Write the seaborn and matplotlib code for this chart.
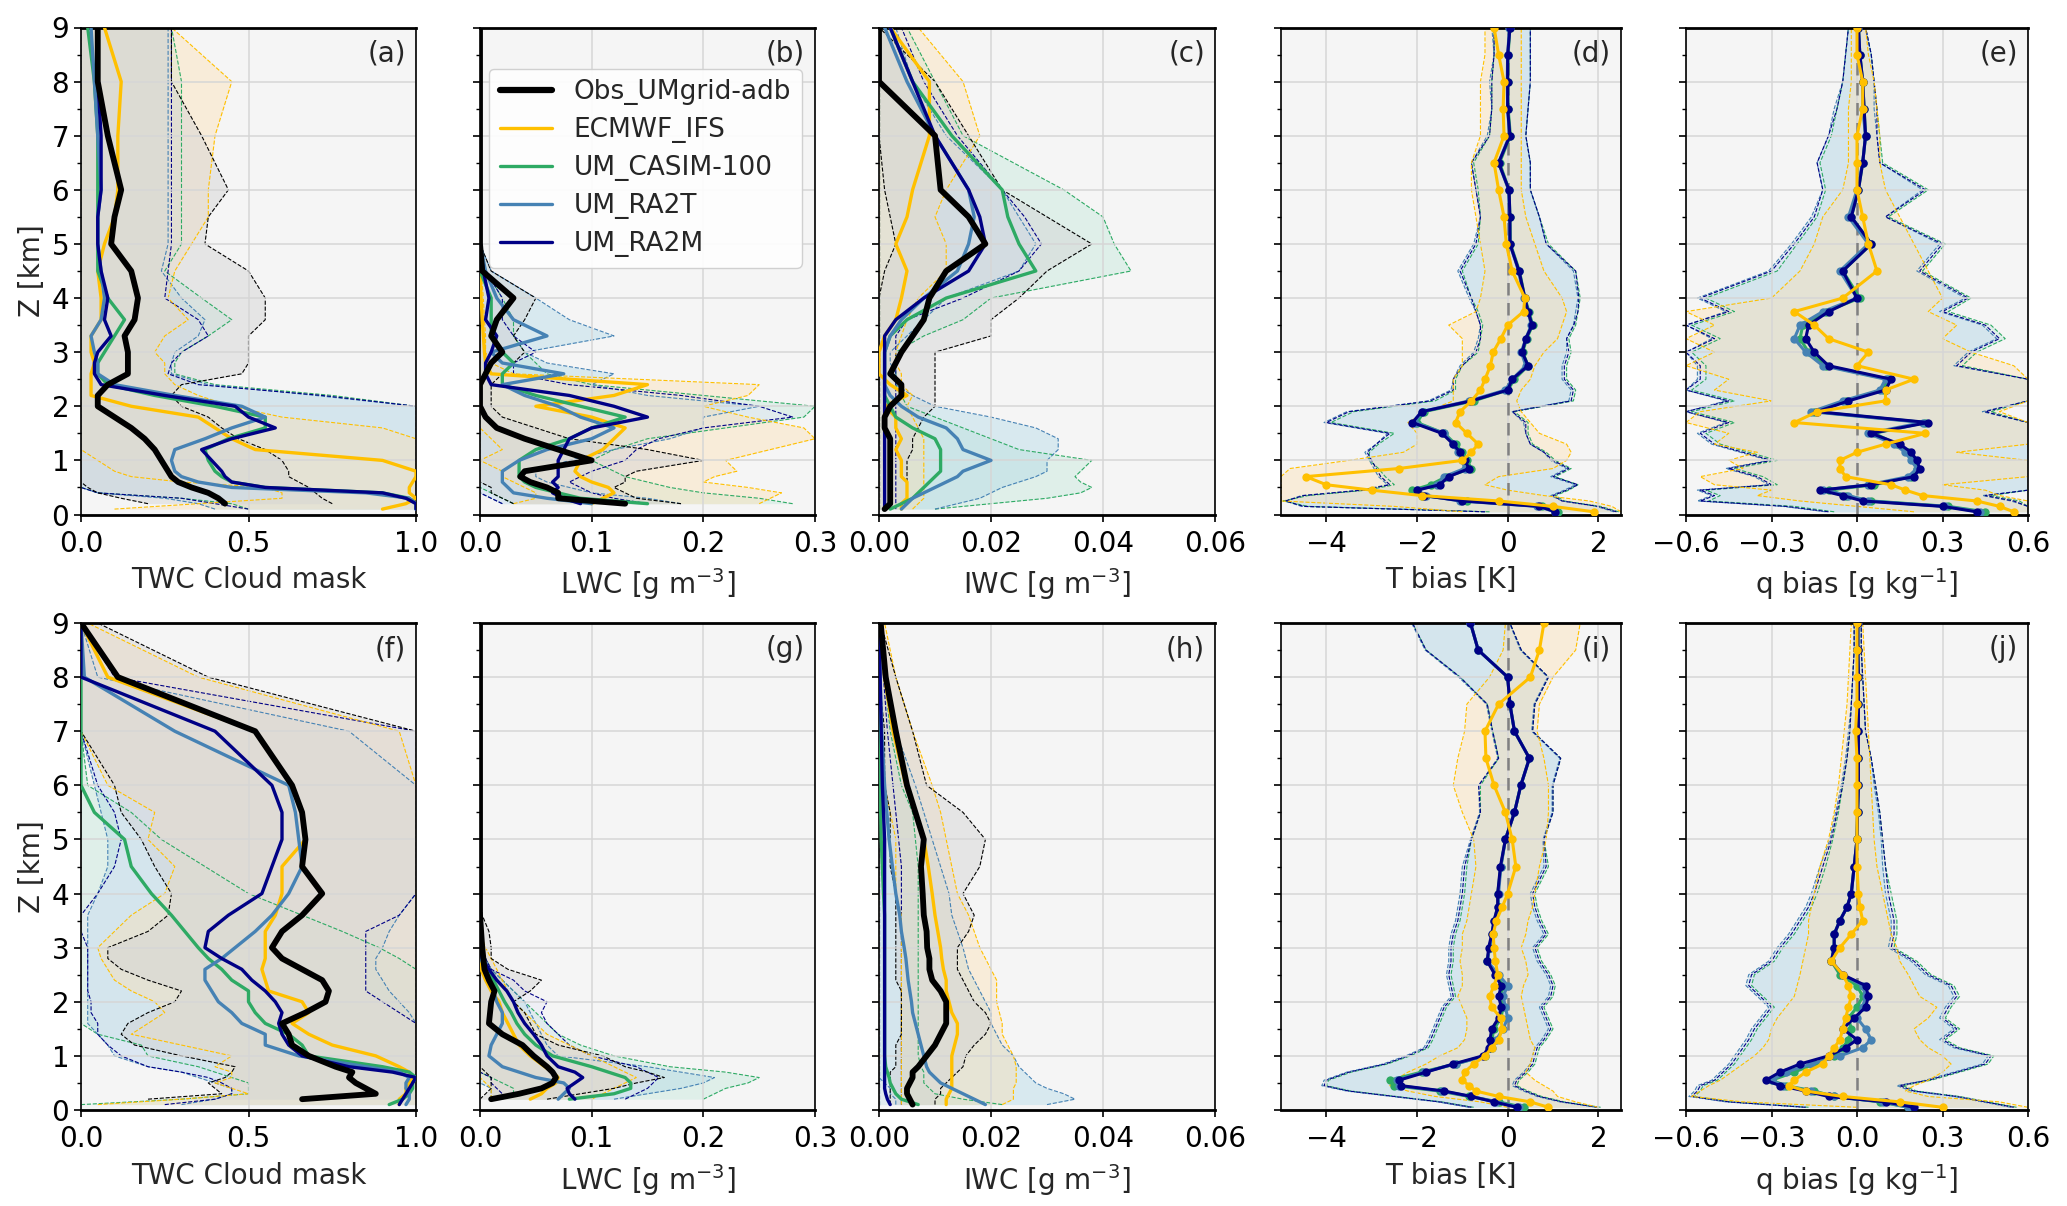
import numpy as np
import matplotlib
matplotlib.use('Agg')
import matplotlib.pyplot as plt
import seaborn as sns
from matplotlib.lines import Line2D
from matplotlib.ticker import MultipleLocator

nan = np.nan

# heights (km)
Z_CLOUD = [0.1, 0.2, 0.3, 0.4, 0.5, 0.6, 0.7, 0.8, 1.0, 1.2, 1.4, 1.6, 1.8, 2.0, 2.2, 2.4, 2.6, 2.8, 3.0,
           3.3, 3.6, 4.0, 4.5, 5.0, 5.5, 6.0, 7.0, 8.0, 9.0]
Z_BIAS = [0.05, 0.15, 0.25, 0.35, 0.45, 0.55, 0.7, 0.85, 1.0, 1.15, 1.3, 1.5, 1.7, 1.9, 2.1, 2.3, 2.5, 2.75,
          3.0, 3.25, 3.5, 3.75, 4.0, 4.5, 5.0, 5.5, 6.0, 6.5, 7.0, 7.5, 8.0, 8.5, 9.0]

LABELS = ['Obs_UMgrid-adb', 'ECMWF_IFS', 'UM_CASIM-100', 'UM_RA2T', 'UM_RA2M']
PANEL_TAGS = ['(a)', '(b)', '(c)', '(d)', '(e)', '(f)', '(g)', '(h)', '(i)', '(j)']
XLABELS = ['TWC Cloud mask', 'LWC [g m$^{-3}$]', 'IWC [g m$^{-3}$]', 'T bias [K]', 'q bias [g kg$^{-1}$]']
XTICKS = [[0.0, 0.5, 1.0], [0.0, 0.1, 0.2, 0.3], [0.0, 0.02, 0.04, 0.06], [-4, -2, 0, 2],
          [-0.6, -0.3, 0.0, 0.3, 0.6]]
XTICKLABELS = [['0.0', '0.5', '1.0'], ['0.0', '0.1', '0.2', '0.3'], ['0.00', '0.02', '0.04', '0.06'],
               ['\u22124', '\u22122', '0', '2'], ['\u22120.6', '\u22120.3', '0.0', '0.3', '0.6']]
XLIMS = [(0, 1.0), (0, 0.3), (0, 0.06), (-5, 2.5), (-0.6, 0.6)]

# ---- (a) TWC cloud mask, case 1
a_obs = [nan, 0.43, 0.41, 0.38, 0.33, 0.29, 0.27, 0.26, 0.24, 0.22, 0.19, 0.15, 0.10, 0.05, 0.05, 0.08, 0.14, 0.14, 0.14, 0.13, 0.16, 0.17, 0.15, 0.09, 0.10, 0.12, 0.08, 0.05, 0.05]
a_obs_lo = [nan, 0.20, 0.12, 0.05, 0.02, 0, 0, 0, 0, 0, 0, 0, 0, 0, 0, 0, 0, 0, 0, 0, 0, 0, 0, 0, 0, 0, 0, 0, 0]
a_obs_hi = [nan, 0.75, 0.72, 0.70, 0.68, 0.65, 0.62, 0.62, 0.60, 0.55, 0.47, 0.42, 0.38, 0.30, 0.27, 0.30, 0.48, 0.50, 0.50, 0.50, 0.55, 0.55, 0.50, 0.37, 0.38, 0.44, 0.36, 0.27, 0.27]
a_ifs = [0.90, 0.97, 1.00, 0.98, 0.98, 0.99, 1.00, 1.00, 0.90, 0.52, 0.45, 0.40, 0.35, 0.15, 0.03, 0.03, 0.03, 0.04, 0.03, 0.03, 0.06, 0.06, 0.05, 0.07, 0.10, 0.11, 0.11, 0.12, 0.07]
a_ifs_lo = [0.10, 0.35, 0.60, 0.60, 0.55, 0.30, 0.15, 0.10, 0.05, 0, 0, 0, 0, 0, 0, 0, 0, 0, 0, 0, 0, 0, 0, 0, 0, 0, 0, 0, 0]
a_ifs_hi = [1.0, 1.0, 1.0, 1.0, 1.0, 1.0, 1.0, 1.0, 1.0, 1.0, 1.0, 0.90, 0.60, 0.45, 0.35, 0.28, 0.25, 0.25, 0.22, 0.25, 0.32, 0.26, 0.28, 0.33, 0.38, 0.38, 0.40, 0.45, 0.27]
a_casim = [1.00, 1.00, 0.98, 0.90, 0.55, 0.45, 0.42, 0.40, 0.38, 0.37, 0.44, 0.55, 0.55, 0.40, 0.22, 0.08, 0.05, 0.05, 0.07, 0.10, 0.13, 0.08, 0.05, 0.05, 0.05, 0.05, 0.05, 0.04, 0.02]
a_casim_lo = [0.50, 0.45, 0.30, 0.05, 0, 0, 0, 0, 0, 0, 0, 0, 0, 0, 0, 0, 0, 0, 0, 0, 0, 0, 0, 0, 0, 0, 0, 0, 0]
a_casim_hi = [1.0, 1.0, 1.0, 1.0, 1.0, 1.0, 1.0, 1.0, 1.0, 1.0, 1.0, 1.0, 1.0, 1.0, 0.75, 0.40, 0.28, 0.28, 0.30, 0.38, 0.45, 0.36, 0.25, 0.30, 0.30, 0.30, 0.30, 0.30, 0.27]
a_ra2t = [1.00, 1.00, 0.98, 0.85, 0.45, 0.35, 0.30, 0.28, 0.27, 0.28, 0.37, 0.45, 0.55, 0.48, 0.28, 0.10, 0.05, 0.05, 0.04, 0.03, 0.06, 0.07, 0.06, 0.05, 0.05, 0.06, 0.05, 0.04, 0.03]
a_ra2t_lo = [0.40, 0.35, 0.25, 0.05, 0, 0, 0, 0, 0, 0, 0, 0, 0, 0, 0, 0, 0, 0, 0, 0, 0, 0, 0, 0, 0, 0, 0, 0, 0]
a_ra2t_hi = [1.0, 1.0, 1.0, 1.0, 1.0, 1.0, 1.0, 1.0, 1.0, 1.0, 1.0, 1.0, 1.0, 1.0, 0.70, 0.38, 0.27, 0.27, 0.28, 0.35, 0.37, 0.30, 0.24, 0.26, 0.26, 0.26, 0.26, 0.26, 0.26]
a_ra2m = [1.00, 1.00, 0.97, 0.90, 0.55, 0.45, 0.43, 0.42, 0.39, 0.36, 0.45, 0.58, 0.50, 0.46, 0.25, 0.06, 0.04, 0.04, 0.05, 0.09, 0.07, 0.08, 0.06, 0.05, 0.05, 0.06, 0.06, 0.05, 0.05]
a_ra2m_lo = [0.50, 0.40, 0.30, 0.05, 0, 0, 0, 0, 0, 0, 0, 0, 0, 0, 0, 0, 0, 0, 0, 0, 0, 0, 0, 0, 0, 0, 0, 0, 0]
a_ra2m_hi = [1.0, 1.0, 1.0, 1.0, 1.0, 1.0, 1.0, 1.0, 1.0, 1.0, 1.0, 1.0, 1.0, 1.0, 0.72, 0.35, 0.26, 0.27, 0.30, 0.38, 0.35, 0.25, 0.26, 0.27, 0.27, 0.27, 0.27, 0.27, 0.27]

# ---- (b) LWC, case 1
b_obs = [nan, 0.13, 0.07, 0.07, 0.06, 0.045, 0.036, 0.04, 0.10, 0.07, 0.04, 0.015, 0.005, 0.0, 0.0, 0.0, 0.005, 0.01, 0.02, 0.01, 0.015, 0.03, 0.002, 0, 0, 0, 0, 0, 0]
b_obs_lo = [nan, 0.03, 0.02, 0.01, 0.01, 0, 0, 0, 0, 0, 0, 0, 0, 0, 0, 0, 0, 0, 0, 0, 0, 0, 0, 0, 0, 0, 0, 0, 0]
b_obs_hi = [nan, 0.18, 0.14, 0.13, 0.12, 0.13, 0.13, 0.14, 0.20, 0.15, 0.08, 0.05, 0.02, 0.01, 0.01, 0.01, 0.02, 0.03, 0.04, 0.03, 0.04, 0.05, 0.01, 0, 0, 0, 0, 0, 0]
b_ifs = [nan, 0.10, 0.11, 0.12, 0.115, 0.10, 0.09, 0.085, 0.09, 0.11, 0.12, 0.13, 0.10, 0.05, 0.12, 0.15, 0.01, 0.005, 0.004, 0.003, 0.002, 0.001, 0, 0, 0, 0, 0, 0, 0]
b_ifs_lo = [nan, 0.03, 0.05, 0.05, 0.04, 0.03, 0.02, 0.02, 0.0, 0.02, 0.01, 0, 0, 0, 0, 0, 0, 0, 0, 0, 0, 0, 0, 0, 0, 0, 0, 0, 0]
b_ifs_hi = [nan, 0.25, 0.26, 0.27, 0.24, 0.20, 0.21, 0.23, 0.22, 0.26, 0.30, 0.29, 0.24, 0.20, 0.24, 0.25, 0.03, 0.01, 0.005, 0.005, 0.004, 0.003, 0.001, 0, 0, 0, 0, 0, 0]
b_casim = [nan, 0.15, 0.09, 0.07, 0.05, 0.04, 0.035, 0.035, 0.035, 0.05, 0.08, 0.10, 0.13, 0.09, 0.05, 0.02, 0.02, 0.03, 0.02, 0.01, 0.01, 0.01, 0.0, 0, 0, 0, 0, 0, 0]
b_casim_lo = [nan, 0.03, 0.02, 0.01, 0, 0, 0, 0, 0, 0, 0, 0, 0, 0, 0, 0, 0, 0, 0, 0, 0, 0, 0, 0, 0, 0, 0, 0, 0]
b_casim_hi = [nan, 0.28, 0.25, 0.20, 0.17, 0.15, 0.13, 0.12, 0.10, 0.12, 0.15, 0.22, 0.29, 0.30, 0.20, 0.10, 0.06, 0.05, 0.04, 0.03, 0.03, 0.02, 0.005, 0, 0, 0, 0, 0, 0]
b_ra2t = [nan, 0.10, 0.06, 0.03, 0.025, 0.02, 0.02, 0.02, 0.035, 0.06, 0.10, 0.12, 0.09, 0.07, 0.04, 0.02, 0.075, 0.02, 0.01, 0.06, 0.03, 0.015, 0.005, 0, 0, 0, 0, 0, 0]
b_ra2t_lo = [nan, 0.02, 0.01, 0, 0, 0, 0, 0, 0, 0, 0, 0, 0, 0, 0, 0, 0, 0, 0, 0, 0, 0, 0, 0, 0, 0, 0, 0, 0]
b_ra2t_hi = [nan, 0.18, 0.15, 0.10, 0.08, 0.06, 0.05, 0.05, 0.08, 0.12, 0.17, 0.20, 0.20, 0.25, 0.15, 0.10, 0.12, 0.06, 0.04, 0.12, 0.08, 0.05, 0.01, 0, 0, 0, 0, 0, 0]
b_ra2m = [nan, 0.09, 0.075, 0.065, 0.07, 0.065, 0.07, 0.07, 0.07, 0.075, 0.08, 0.10, 0.15, 0.12, 0.08, 0.01, 0.005, 0.005, 0.01, 0.015, 0.005, 0.008, 0.003, 0, 0, 0, 0, 0, 0]
b_ra2m_lo = [nan, 0.02, 0.01, 0, 0, 0, 0, 0, 0, 0, 0, 0, 0, 0, 0, 0, 0, 0, 0, 0, 0, 0, 0, 0, 0, 0, 0, 0, 0]
b_ra2m_hi = [nan, 0.15, 0.12, 0.10, 0.09, 0.08, 0.09, 0.10, 0.13, 0.14, 0.16, 0.20, 0.28, 0.25, 0.18, 0.08, 0.03, 0.03, 0.05, 0.03, 0.02, 0.02, 0.005, 0, 0, 0, 0, 0, 0]

# ---- (c) IWC, case 1
c_obs = [0.001, 0.002, 0.002, 0.002, 0.002, 0.002, 0.002, 0.002, 0.002, 0.002, 0.002, 0.001, 0.001, 0.002, 0.004, 0.004, 0.002, 0.003, 0.004, 0.006, 0.008, 0.009, 0.012, 0.019, 0.016, 0.011, 0.010, 0.0, 0.0]
c_obs_lo = [0, 0, 0, 0, 0, 0, 0, 0, 0, 0, 0, 0, 0, 0, 0, 0, 0, 0, 0, 0, 0, 0, 0.001, 0.003, 0.002, 0.001, 0, 0, 0]
c_obs_hi = [0.004, 0.005, 0.005, 0.005, 0.005, 0.005, 0.005, 0.005, 0.005, 0.006, 0.006, 0.007, 0.008, 0.010, 0.010, 0.010, 0.010, 0.010, 0.010, 0.020, 0.020, 0.025, 0.030, 0.038, 0.030, 0.022, 0.016, 0.010, 0.0]
c_ifs = [0.004, 0.004, 0.005, 0.005, 0.005, 0.005, 0.004, 0.004, 0.004, 0.003, 0.004, 0.003, 0.003, 0.001, 0.005, 0.002, 0.0, 0.0, 0.0, 0.001, 0.003, 0.004, 0.005, 0.003, 0.005, 0.006, 0.009, 0.009, 0.002]
c_ifs_lo = [0, 0, 0, 0, 0, 0, 0, 0, 0, 0, 0, 0, 0, 0, 0, 0, 0, 0, 0, 0, 0, 0, 0, 0, 0, 0, 0, 0, 0]
c_ifs_hi = [0.006, 0.007, 0.008, 0.008, 0.008, 0.008, 0.008, 0.008, 0.008, 0.008, 0.008, 0.007, 0.006, 0.005, 0.006, 0.004, 0.004, 0.003, 0.003, 0.004, 0.005, 0.007, 0.012, 0.012, 0.010, 0.012, 0.018, 0.015, 0.007]
c_casim = [0.002, 0.004, 0.006, 0.007, 0.008, 0.009, 0.010, 0.011, 0.011, 0.011, 0.010, 0.006, 0.003, 0.002, 0.001, 0.001, 0.001, 0.001, 0.001, 0.002, 0.005, 0.012, 0.028, 0.025, 0.023, 0.022, 0.013, 0.006, 0.002]
c_casim_lo = [0, 0, 0, 0, 0, 0, 0, 0, 0, 0, 0, 0, 0, 0, 0, 0, 0, 0, 0, 0, 0, 0, 0, 0, 0, 0, 0, 0, 0]
c_casim_hi = [0.010, 0.020, 0.030, 0.036, 0.038, 0.036, 0.035, 0.036, 0.038, 0.025, 0.020, 0.015, 0.010, 0.005, 0.004, 0.003, 0.003, 0.003, 0.003, 0.008, 0.015, 0.020, 0.045, 0.042, 0.040, 0.033, 0.015, 0.010, 0.005]
c_ra2t = [0.004, 0.005, 0.006, 0.008, 0.010, 0.012, 0.014, 0.015, 0.020, 0.015, 0.014, 0.012, 0.007, 0.004, 0.002, 0.001, 0.001, 0.001, 0.001, 0.002, 0.004, 0.008, 0.014, 0.016, 0.017, 0.016, 0.010, 0.005, 0.001]
c_ra2t_lo = [0, 0, 0, 0, 0, 0, 0, 0, 0, 0, 0, 0, 0, 0, 0, 0, 0, 0, 0, 0, 0, 0, 0, 0, 0, 0, 0, 0, 0]
c_ra2t_hi = [0.010, 0.014, 0.018, 0.020, 0.022, 0.025, 0.028, 0.030, 0.030, 0.032, 0.032, 0.028, 0.020, 0.010, 0.006, 0.003, 0.003, 0.002, 0.002, 0.005, 0.008, 0.012, 0.025, 0.028, 0.025, 0.022, 0.012, 0.006, 0.003]
c_ra2m = [0.001, 0.001, 0.001, 0.001, 0.001, 0.001, 0.001, 0.001, 0.001, 0.001, 0.001, 0.001, 0.001, 0.001, 0.001, 0.001, 0.001, 0.001, 0.001, 0.001, 0.003, 0.008, 0.016, 0.019, 0.018, 0.016, 0.010, 0.006, 0.002]
c_ra2m_lo = [0, 0, 0, 0, 0, 0, 0, 0, 0, 0, 0, 0, 0, 0, 0, 0, 0, 0, 0, 0, 0, 0, 0, 0, 0, 0, 0, 0, 0]
c_ra2m_hi = [0.003, 0.003, 0.003, 0.003, 0.003, 0.003, 0.003, 0.003, 0.003, 0.003, 0.003, 0.003, 0.003, 0.003, 0.003, 0.003, 0.003, 0.003, 0.003, 0.003, 0.005, 0.015, 0.025, 0.029, 0.026, 0.022, 0.014, 0.008, 0.004]

# ---- (d) T bias, case 1
d_ifs = [1.90, 1.00, -0.20, -1.90, -3.00, -4.00, -4.45, -2.40, -1.00, -0.80, -0.65, -0.90, -1.15, -1.05, -0.80, -0.60, -0.50, -0.38, -0.32, -0.15, 0.00, 0.35, 0.38, 0.10, -0.03, -0.08, -0.20, -0.30, -0.08, -0.10, -0.08, -0.20, -0.30]
d_ifs_lo = [-1.00, -2.50, -5.00, -5.00, -5.00, -5.00, -5.00, -4.80, -3.50, -2.30, -2.00, -2.00, -2.20, -1.80, -1.20, -1.20, -1.20, -1.00, -1.00, -1.00, -1.30, -0.70, -0.60, -0.50, -0.60, -0.70, -0.80, -0.80, -0.60, -0.60, -0.60, -0.50, -0.50]
d_ifs_hi = [2.50, 2.30, 1.80, 0.80, 0.00, -0.50, -0.20, 1.00, 1.30, 1.40, 1.30, 0.70, 0.50, 0.30, 0.20, 0.30, 0.50, 0.60, 0.80, 1.10, 1.20, 1.30, 1.20, 0.80, 0.60, 0.40, 0.30, 0.30, 0.30, 0.30, 0.30, 0.30, 0.30]
d_casim = [1.10, 0.75, -0.90, -1.90, -2.10, -1.70, -1.35, -0.80, -0.90, -1.00, -1.15, -1.40, -2.00, -1.85, -0.75, 0.00, 0.15, 0.45, 0.33, 0.42, 0.55, 0.47, 0.38, 0.26, 0.06, 0.05, 0.03, -0.18, 0.06, 0.01, 0.00, 0.01, 0.05]
d_casim_lo = [-0.40, -4.40, -4.95, -4.40, -3.10, -2.50, -2.70, -2.85, -3.05, -3.05, -2.85, -2.50, -3.90, -3.40, -1.60, -1.15, -1.15, -1.00, -0.65, -0.60, -0.55, -0.65, -0.80, -1.00, -0.65, -0.60, -0.65, -0.75, -0.40, -0.35, -0.35, -0.30, -0.30]
d_casim_hi = [2.45, 2.05, 1.25, 1.05, 1.35, 1.55, 1.05, 1.40, 1.05, 0.85, 0.55, 0.45, 0.45, 0.15, 1.45, 1.50, 1.30, 1.30, 1.40, 1.35, 1.50, 1.55, 1.60, 1.50, 0.90, 0.70, 0.50, 0.50, 0.40, 0.45, 0.50, 0.50, 0.50]
d_ra2t = [1.05, 0.65, -1.05, -1.80, -2.00, -1.55, -1.40, -0.95, -1.00, -1.10, -1.20, -1.40, -2.05, -1.90, -0.85, -0.05, 0.10, 0.40, 0.30, 0.40, 0.52, 0.45, 0.36, 0.24, 0.05, 0.04, 0.02, -0.20, 0.04, 0.00, -0.01, 0.00, 0.04]
d_ra2t_lo = [-0.50, -4.55, -4.90, -4.55, -3.25, -2.65, -2.85, -2.95, -3.05, -3.15, -2.90, -2.65, -4.05, -3.55, -1.75, -1.25, -1.20, -1.05, -0.75, -0.65, -0.60, -0.70, -0.85, -1.10, -0.75, -0.60, -0.70, -0.80, -0.45, -0.35, -0.40, -0.30, -0.35]
d_ra2t_hi = [2.35, 1.95, 1.20, 0.95, 1.25, 1.50, 0.95, 1.30, 0.95, 0.80, 0.50, 0.40, 0.35, 0.10, 1.35, 1.40, 1.20, 1.20, 1.30, 1.30, 1.45, 1.50, 1.55, 1.45, 0.85, 0.70, 0.50, 0.50, 0.40, 0.45, 0.50, 0.50, 0.50]
d_ra2m = [1.05, 0.70, -1.00, -1.85, -2.00, -1.50, -1.30, -0.85, -0.95, -1.05, -1.20, -1.45, -2.10, -1.90, -0.80, 0.00, 0.10, 0.45, 0.32, 0.40, 0.54, 0.45, 0.38, 0.25, 0.05, 0.05, 0.03, -0.20, 0.05, 0.00, 0.00, 0.00, 0.05]
d_ra2m_lo = [-0.50, -4.50, -4.90, -4.50, -3.20, -2.60, -2.80, -2.90, -3.00, -3.10, -2.90, -2.60, -4.00, -3.50, -1.70, -1.20, -1.20, -1.00, -0.70, -0.60, -0.60, -0.70, -0.80, -1.05, -0.70, -0.60, -0.70, -0.80, -0.40, -0.35, -0.35, -0.30, -0.30]
d_ra2m_hi = [2.40, 2.00, 1.20, 1.00, 1.30, 1.55, 1.00, 1.35, 1.00, 0.80, 0.50, 0.40, 0.40, 0.10, 1.40, 1.45, 1.25, 1.25, 1.35, 1.30, 1.46, 1.55, 1.57, 1.50, 0.85, 0.70, 0.50, 0.50, 0.40, 0.45, 0.50, 0.50, 0.50]

# ---- (e) q bias, case 1
e_ifs = [0.55, 0.50, 0.42, 0.23, 0.17, 0.12, -0.04, -0.06, -0.06, 0.00, 0.10, 0.24, -0.22, -0.14, 0.10, 0.10, 0.20, 0.00, 0.04, -0.10, -0.15, -0.22, -0.05, 0.07, 0.04, 0.02, 0.00, 0.00, 0.00, 0.02, 0.02, 0.00, 0.00]
e_ifs_lo = [0.20, 0.00, -0.20, -0.35, -0.30, -0.50, -0.55, -0.40, -0.45, -0.35, -0.50, -0.45, -0.60, -0.55, -0.30, -0.50, -0.45, -0.60, -0.50, -0.60, -0.50, -0.60, -0.30, -0.20, -0.15, -0.12, -0.05, -0.03, -0.03, -0.03, -0.02, -0.02, -0.02]
e_ifs_hi = [0.60, 0.60, 0.60, 0.50, 0.45, 0.30, 0.60, 0.60, 0.60, 0.35, 0.60, 0.60, 0.60, 0.50, 0.60, 0.60, 0.60, 0.55, 0.40, 0.30, 0.35, 0.25, 0.30, 0.25, 0.20, 0.15, 0.10, 0.08, 0.08, 0.07, 0.06, 0.04, 0.03]
e_casim = [0.45, 0.32, 0.05, -0.04, -0.10, 0.06, 0.19, 0.21, 0.20, 0.18, 0.14, 0.06, 0.24, -0.15, -0.04, 0.09, 0.11, -0.11, -0.17, -0.20, -0.19, -0.11, 0.01, -0.05, 0.05, -0.02, 0.005, 0.02, 0.03, 0.025, 0.02, 0.01, 0.005]
e_casim_lo = [-0.08, -0.22, -0.52, -0.48, -0.53, -0.28, -0.33, -0.43, -0.28, -0.38, -0.48, -0.53, -0.43, -0.58, -0.43, -0.58, -0.53, -0.53, -0.58, -0.48, -0.58, -0.43, -0.53, -0.28, -0.21, -0.14, -0.11, -0.13, -0.09, -0.07, -0.05, -0.04, -0.03]
e_casim_hi = [0.60, 0.60, 0.57, 0.47, 0.60, 0.60, 0.60, 0.60, 0.60, 0.60, 0.60, 0.60, 0.60, 0.47, 0.60, 0.60, 0.60, 0.37, 0.42, 0.52, 0.47, 0.32, 0.40, 0.23, 0.31, 0.11, 0.25, 0.09, 0.08, 0.07, 0.06, 0.05, 0.03]
e_ra2t = [0.43, 0.31, 0.04, -0.03, -0.12, 0.04, 0.18, 0.21, 0.19, 0.17, 0.13, 0.04, 0.23, -0.16, -0.05, 0.08, 0.10, -0.12, -0.18, -0.22, -0.20, -0.12, 0.00, -0.06, 0.04, -0.03, 0.00, 0.02, 0.03, 0.02, 0.02, 0.01, 0.005]
e_ra2t_lo = [-0.11, -0.26, -0.56, -0.51, -0.56, -0.31, -0.36, -0.46, -0.31, -0.41, -0.51, -0.56, -0.46, -0.60, -0.46, -0.60, -0.56, -0.56, -0.60, -0.51, -0.60, -0.46, -0.56, -0.31, -0.23, -0.16, -0.12, -0.14, -0.10, -0.08, -0.05, -0.04, -0.03]
e_ra2t_hi = [0.60, 0.60, 0.54, 0.44, 0.60, 0.60, 0.60, 0.60, 0.60, 0.60, 0.60, 0.60, 0.60, 0.44, 0.60, 0.60, 0.60, 0.34, 0.39, 0.49, 0.44, 0.29, 0.38, 0.21, 0.29, 0.10, 0.23, 0.08, 0.07, 0.06, 0.06, 0.05, 0.03]
e_ra2m = [0.42, 0.30, 0.02, -0.05, -0.13, 0.05, 0.20, 0.22, 0.21, 0.19, 0.15, 0.05, 0.25, -0.14, -0.03, 0.10, 0.12, -0.10, -0.15, -0.18, -0.17, -0.10, 0.00, -0.05, 0.05, -0.02, 0.005, 0.02, 0.03, 0.025, 0.02, 0.01, 0.005]
e_ra2m_lo = [-0.10, -0.25, -0.55, -0.50, -0.55, -0.30, -0.35, -0.45, -0.30, -0.40, -0.50, -0.55, -0.45, -0.60, -0.45, -0.60, -0.55, -0.55, -0.60, -0.50, -0.60, -0.45, -0.55, -0.30, -0.22, -0.15, -0.12, -0.14, -0.10, -0.07, -0.05, -0.04, -0.03]
e_ra2m_hi = [0.60, 0.60, 0.55, 0.45, 0.60, 0.60, 0.60, 0.60, 0.60, 0.60, 0.60, 0.60, 0.60, 0.45, 0.60, 0.60, 0.60, 0.35, 0.40, 0.50, 0.45, 0.30, 0.39, 0.22, 0.30, 0.10, 0.24, 0.08, 0.07, 0.07, 0.06, 0.05, 0.03]

# ---- (f) TWC cloud mask, case 2
f_obs = [nan, 0.66, 0.88, 0.85, 0.82, 0.80, 0.81, 0.76, 0.68, 0.63, 0.62, 0.60, 0.67, 0.73, 0.74, 0.72, 0.66, 0.60, 0.57, 0.60, 0.66, 0.72, 0.66, 0.67, 0.66, 0.63, 0.52, 0.11, 0.00]
f_obs_lo = [nan, 0.20, 0.42, 0.40, 0.38, 0.43, 0.45, 0.46, 0.30, 0.16, 0.12, 0.14, 0.20, 0.28, 0.30, 0.20, 0.12, 0.08, 0.08, 0.20, 0.26, 0.27, 0.22, 0.18, 0.12, 0.10, 0.00, 0.00, 0.00]
f_obs_hi = [nan, 1.0, 1.0, 1.0, 1.0, 1.0, 1.0, 1.0, 1.0, 1.0, 1.0, 1.0, 1.0, 1.0, 1.0, 1.0, 1.0, 1.0, 1.0, 1.0, 1.0, 1.0, 1.0, 1.0, 1.0, 1.0, 1.0, 0.38, 0.05]
f_ifs = [0.95, 0.95, 0.97, 0.97, 0.98, 0.99, 0.98, 0.95, 0.88, 0.75, 0.68, 0.63, 0.68, 0.66, 0.56, 0.55, 0.54, 0.55, 0.55, 0.55, 0.58, 0.60, 0.60, 0.67, 0.66, 0.63, 0.52, 0.08, 0.00]
f_ifs_lo = [0.05, 0.30, 0.50, 0.45, 0.40, 0.45, 0.45, 0.40, 0.45, 0.30, 0.15, 0.20, 0.25, 0.22, 0.15, 0.10, 0.08, 0.06, 0.05, 0.10, 0.15, 0.25, 0.28, 0.20, 0.22, 0.08, 0.00, 0.00, 0.00]
f_ifs_hi = [1.0, 1.0, 1.0, 1.0, 1.0, 1.0, 1.0, 1.0, 1.0, 1.0, 1.0, 1.0, 1.0, 1.0, 1.0, 1.0, 1.0, 1.0, 1.0, 1.0, 1.0, 1.0, 1.0, 1.0, 1.0, 1.0, 0.95, 0.35, 0.02]
f_casim = [0.92, 0.96, 0.98, 0.99, 0.99, 1.00, 0.98, 0.90, 0.68, 0.66, 0.62, 0.55, 0.52, 0.50, 0.50, 0.45, 0.42, 0.38, 0.35, 0.31, 0.27, 0.21, 0.15, 0.13, 0.04, 0.00, 0.00, 0.00, 0.00]
f_casim_lo = [0.00, 0.30, 0.50, 0.50, 0.50, 0.45, 0.40, 0.35, 0.20, 0.18, 0.05, 0, 0, 0, 0, 0, 0, 0, 0, 0, 0, 0, 0, 0, 0, 0, 0, 0, 0]
f_casim_hi = [1.0, 1.0, 1.0, 1.0, 1.0, 1.0, 1.0, 1.0, 1.0, 1.0, 1.0, 1.0, 1.0, 1.0, 1.0, 1.0, 1.0, 0.95, 0.89, 0.78, 0.66, 0.50, 0.37, 0.24, 0.15, 0.02, 0.0, 0.0, 0.0]
f_ra2t = [0.97, 0.98, 0.98, 0.97, 0.97, 0.98, 0.95, 0.85, 0.65, 0.55, 0.55, 0.48, 0.45, 0.41, 0.39, 0.37, 0.37, 0.42, 0.46, 0.52, 0.57, 0.62, 0.66, 0.65, 0.64, 0.62, 0.28, 0.01, 0.00]
f_ra2t_lo = [0.30, 0.40, 0.45, 0.45, 0.40, 0.35, 0.30, 0.20, 0.10, 0.08, 0.05, 0.02, 0.02, 0.02, 0.02, 0.02, 0.02, 0.02, 0.02, 0.02, 0.02, 0.05, 0.08, 0.08, 0.06, 0.04, 0.0, 0.0, 0.0]
f_ra2t_hi = [1.0, 1.0, 1.0, 1.0, 1.0, 1.0, 1.0, 1.0, 1.0, 1.0, 1.0, 1.0, 0.98, 0.95, 0.92, 0.90, 0.88, 0.88, 0.90, 0.92, 0.95, 1.0, 1.0, 1.0, 1.0, 1.0, 0.80, 0.05, 0.0]
f_ra2m = [0.95, 0.96, 0.97, 0.98, 0.99, 1.00, 0.93, 0.80, 0.66, 0.62, 0.60, 0.59, 0.60, 0.58, 0.55, 0.51, 0.48, 0.42, 0.37, 0.38, 0.44, 0.54, 0.57, 0.60, 0.60, 0.57, 0.40, 0.00, 0.00]
f_ra2m_lo = [0.25, 0.40, 0.45, 0.45, 0.42, 0.38, 0.30, 0.20, 0.12, 0.08, 0.05, 0.05, 0.03, 0.03, 0.02, 0.02, 0.02, 0.02, 0.02, 0.00, 0.00, 0.05, 0.10, 0.12, 0.10, 0.05, 0.0, 0.0, 0.0]
f_ra2m_hi = [1.0, 1.0, 1.0, 1.0, 1.0, 1.0, 1.0, 1.0, 1.0, 1.0, 1.0, 1.0, 0.95, 0.90, 0.85, 0.85, 0.85, 0.85, 0.85, 0.85, 0.95, 1.0, 1.0, 1.0, 1.0, 1.0, 1.0, 0.10, 0.0]

# ---- (g) LWC, case 2
g_obs = [nan, 0.010, 0.035, 0.055, 0.065, 0.068, 0.065, 0.060, 0.048, 0.038, 0.020, 0.008, 0.009, 0.010, 0.013, 0.008, 0.004, 0.003, 0.002, 0.001, 0, 0, 0, 0, 0, 0, 0, 0, 0]
g_obs_lo = [nan, 0.0, 0.005, 0.01, 0.01, 0.01, 0.005, 0, 0, 0, 0, 0, 0, 0, 0, 0, 0, 0, 0, 0, 0, 0, 0, 0, 0, 0, 0, 0, 0]
g_obs_hi = [nan, 0.06, 0.09, 0.12, 0.14, 0.165, 0.15, 0.13, 0.11, 0.07, 0.05, 0.045, 0.04, 0.03, 0.045, 0.055, 0.025, 0.01, 0.01, 0.008, 0.002, 0, 0, 0, 0, 0, 0, 0, 0]
g_ifs = [nan, 0.045, 0.055, 0.060, 0.068, 0.070, 0.065, 0.058, 0.045, 0.035, 0.030, 0.025, 0.020, 0.017, 0.010, 0.005, 0.001, 0, 0, 0, 0, 0, 0, 0, 0, 0, 0, 0, 0]
g_ifs_lo = [nan, 0.01, 0.01, 0.01, 0.005, 0, 0, 0, 0, 0, 0, 0, 0, 0, 0, 0, 0, 0, 0, 0, 0, 0, 0, 0, 0, 0, 0, 0, 0]
g_ifs_hi = [nan, 0.10, 0.11, 0.12, 0.13, 0.14, 0.13, 0.12, 0.10, 0.08, 0.06, 0.05, 0.04, 0.03, 0.025, 0.02, 0.015, 0.01, 0.005, 0, 0, 0, 0, 0, 0, 0, 0, 0, 0]
g_casim = [nan, 0.080, 0.120, 0.135, 0.135, 0.130, 0.115, 0.100, 0.065, 0.050, 0.040, 0.033, 0.028, 0.022, 0.017, 0.012, 0.006, 0.002, 0, 0, 0, 0, 0, 0, 0, 0, 0, 0, 0]
g_casim_lo = [nan, 0.02, 0.03, 0.03, 0.02, 0.01, 0, 0, 0, 0, 0, 0, 0, 0, 0, 0, 0, 0, 0, 0, 0, 0, 0, 0, 0, 0, 0, 0, 0]
g_casim_hi = [nan, 0.20, 0.21, 0.22, 0.24, 0.25, 0.22, 0.17, 0.12, 0.09, 0.07, 0.06, 0.05, 0.04, 0.03, 0.02, 0.01, 0.005, 0, 0, 0, 0, 0, 0, 0, 0, 0, 0, 0]
g_ra2t = [nan, 0.070, 0.075, 0.080, 0.075, 0.050, 0.035, 0.020, 0.008, 0.010, 0.015, 0.020, 0.020, 0.015, 0.012, 0.008, 0.004, 0.001, 0, 0, 0, 0, 0, 0, 0, 0, 0, 0, 0]
g_ra2t_lo = [nan, 0.01, 0.01, 0.01, 0, 0, 0, 0, 0, 0, 0, 0, 0, 0, 0, 0, 0, 0, 0, 0, 0, 0, 0, 0, 0, 0, 0, 0, 0]
g_ra2t_hi = [nan, 0.12, 0.15, 0.18, 0.20, 0.21, 0.18, 0.15, 0.07, 0.06, 0.055, 0.05, 0.045, 0.04, 0.03, 0.02, 0.01, 0.005, 0, 0, 0, 0, 0, 0, 0, 0, 0, 0, 0]
g_ra2m = [nan, 0.085, 0.080, 0.078, 0.085, 0.092, 0.085, 0.070, 0.060, 0.055, 0.048, 0.040, 0.034, 0.030, 0.024, 0.015, 0.008, 0.002, 0, 0, 0, 0, 0, 0, 0, 0, 0, 0, 0]
g_ra2m_lo = [nan, 0.02, 0.02, 0.015, 0.01, 0.01, 0, 0, 0, 0, 0, 0, 0, 0, 0, 0, 0, 0, 0, 0, 0, 0, 0, 0, 0, 0, 0, 0, 0]
g_ra2m_hi = [nan, 0.13, 0.14, 0.15, 0.155, 0.16, 0.15, 0.14, 0.10, 0.08, 0.07, 0.06, 0.055, 0.06, 0.04, 0.03, 0.01, 0.005, 0, 0, 0, 0, 0, 0, 0, 0, 0, 0, 0]

# ---- (h) IWC, case 2
h_obs = [0.0060, 0.0055, 0.0050, 0.0050, 0.0055, 0.0060, 0.0060, 0.0070, 0.0085, 0.0100, 0.0110, 0.0120, 0.0120, 0.0120, 0.0110, 0.0095, 0.0090, 0.0090, 0.0086, 0.0085, 0.0080, 0.0078, 0.0075, 0.0080, 0.0065, 0.0050, 0.0030, 0.0012, 0.0003]
h_obs_lo = [0.002, 0.002, 0.002, 0.002, 0.002, 0.002, 0.002, 0.003, 0.003, 0.003, 0.004, 0.004, 0.004, 0.004, 0.004, 0.003, 0.003, 0.003, 0.003, 0.003, 0.003, 0.003, 0.002, 0.002, 0.002, 0.001, 0.001, 0.0, 0.0]
h_obs_hi = [0.010, 0.010, 0.011, 0.011, 0.012, 0.013, 0.014, 0.015, 0.0155, 0.017, 0.019, 0.020, 0.019, 0.017, 0.016, 0.015, 0.014, 0.014, 0.014, 0.016, 0.017, 0.015, 0.018, 0.019, 0.015, 0.0085, 0.006, 0.003, 0.0003]
h_ifs = [0.0120, 0.0120, 0.0125, 0.0130, 0.0130, 0.0130, 0.0130, 0.0130, 0.0130, 0.0135, 0.0140, 0.0140, 0.0130, 0.0125, 0.0120, 0.0120, 0.0115, 0.0112, 0.0110, 0.0105, 0.0100, 0.0095, 0.0088, 0.0080, 0.0065, 0.0048, 0.0025, 0.0010, 0.0003]
h_ifs_lo = [0.004, 0.004, 0.004, 0.004, 0.004, 0.004, 0.004, 0.004, 0.004, 0.004, 0.004, 0.004, 0.004, 0.004, 0.004, 0.004, 0.004, 0.004, 0.004, 0.004, 0.004, 0.003, 0.003, 0.003, 0.002, 0.001, 0.0005, 0.0, 0.0]
h_ifs_hi = [0.022, 0.024, 0.024, 0.024, 0.0245, 0.0245, 0.0245, 0.0245, 0.024, 0.023, 0.022, 0.022, 0.0215, 0.021, 0.021, 0.021, 0.020, 0.019, 0.018, 0.017, 0.016, 0.014, 0.013, 0.012, 0.011, 0.0095, 0.006, 0.003, 0.001]
h_casim = [0.0070, 0.0040, 0.0030, 0.0025, 0.0020, 0.0018, 0.0015, 0.0012, 0.0010, 0.0010, 0.0010, 0.0010, 0.0010, 0.0010, 0.0010, 0.0010, 0.0010, 0.0010, 0.0010, 0.0010, 0.0010, 0.0008, 0.0006, 0.0004, 0.0003, 0.0002, 0.0001, 0.0, 0.0]
h_casim_lo = [0, 0, 0, 0, 0, 0, 0, 0, 0, 0, 0, 0, 0, 0, 0, 0, 0, 0, 0, 0, 0, 0, 0, 0, 0, 0, 0, 0, 0]
h_casim_hi = [0.022, 0.015, 0.010, 0.009, 0.008, 0.008, 0.008, 0.0075, 0.007, 0.007, 0.007, 0.007, 0.007, 0.007, 0.007, 0.007, 0.007, 0.007, 0.007, 0.007, 0.007, 0.007, 0.007, 0.0065, 0.006, 0.004, 0.002, 0.001, 0.0]
h_ra2t = [0.019, 0.017, 0.015, 0.013, 0.011, 0.010, 0.009, 0.0085, 0.008, 0.0075, 0.007, 0.0065, 0.006, 0.0058, 0.0055, 0.0052, 0.005, 0.0048, 0.0045, 0.004, 0.0037, 0.003, 0.0024, 0.0018, 0.0014, 0.001, 0.0005, 0.0002, 0.0]
h_ra2t_lo = [0.003, 0.003, 0.002, 0.002, 0.001, 0, 0, 0, 0, 0, 0, 0, 0, 0, 0, 0, 0, 0, 0, 0, 0, 0, 0, 0, 0, 0, 0, 0, 0]
h_ra2t_hi = [0.030, 0.035, 0.033, 0.030, 0.028, 0.027, 0.026, 0.025, 0.024, 0.022, 0.021, 0.020, 0.020, 0.019, 0.018, 0.017, 0.016, 0.0155, 0.015, 0.014, 0.013, 0.0125, 0.011, 0.0095, 0.008, 0.0065, 0.003, 0.001, 0.0]
h_ra2m = [0.0020, 0.0015, 0.0012, 0.0010, 0.0010, 0.0010, 0.0010, 0.0010, 0.0010, 0.0010, 0.0010, 0.0010, 0.0010, 0.0010, 0.0010, 0.0010, 0.0010, 0.0010, 0.0010, 0.0010, 0.0010, 0.0010, 0.0010, 0.0010, 0.0008, 0.0006, 0.0004, 0.0002, 0.0]
h_ra2m_lo = [0, 0, 0, 0, 0, 0, 0, 0, 0, 0, 0, 0, 0, 0, 0, 0, 0, 0, 0, 0, 0, 0, 0, 0, 0, 0, 0, 0, 0]
h_ra2m_hi = [0.004, 0.004, 0.004, 0.004, 0.004, 0.004, 0.004, 0.004, 0.004, 0.004, 0.004, 0.004, 0.004, 0.004, 0.004, 0.004, 0.004, 0.004, 0.004, 0.004, 0.004, 0.004, 0.004, 0.0035, 0.003, 0.0025, 0.0015, 0.0008, 0.0002]

# ---- (i) T bias, case 2
i_ifs = [0.90, 0.50, -0.20, -0.70, -0.85, -1.00, -0.95, -0.75, -0.50, -0.35, -0.20, -0.12, -0.15, -0.35, -0.40, -0.30, -0.22, -0.27, -0.30, -0.32, -0.25, -0.12, 0.00, 0.18, 0.10, -0.05, -0.30, -0.48, -0.50, -0.20, 0.50, 0.70, 0.80]
i_ifs_lo = [0.00, -0.60, -1.60, -2.20, -2.60, -2.50, -2.20, -1.80, -1.50, -1.10, -0.95, -0.90, -0.90, -1.00, -1.10, -1.00, -1.00, -1.05, -1.00, -1.00, -0.90, -0.85, -0.80, -0.70, -0.75, -1.00, -1.20, -1.10, -0.95, -0.90, -0.40, -0.10, -0.05]
i_ifs_hi = [2.00, 1.50, 1.10, 1.00, 0.80, 0.60, 0.40, 0.50, 0.55, 0.60, 0.50, 0.45, 0.40, 0.35, 0.30, 0.35, 0.45, 0.40, 0.30, 0.40, 0.45, 0.55, 0.60, 0.70, 0.85, 0.90, 0.90, 0.80, 0.65, 0.70, 1.00, 1.50, 1.60]
i_casim = [0.35, -0.20, -0.85, -1.50, -2.50, -2.60, -1.90, -1.15, -0.50, -0.40, -0.35, -0.30, -0.15, -0.10, -0.15, -0.10, -0.25, -0.45, -0.40, -0.33, -0.28, -0.20, -0.22, -0.15, -0.05, 0.15, 0.29, 0.48, 0.15, 0.05, 0.00, -0.65, -0.82]
i_casim_lo = [-0.75, -1.45, -2.45, -3.45, -4.00, -3.95, -3.45, -2.65, -2.15, -1.75, -1.65, -1.55, -1.45, -1.35, -1.15, -1.20, -1.25, -1.20, -1.20, -1.15, -1.05, -1.00, -0.95, -0.90, -0.80, -0.60, -0.60, -0.20, -0.33, -0.45, -1.05, -1.80, -2.10]
i_casim_hi = [2.05, 1.25, 0.75, 0.45, 0.20, 0.25, 0.45, 0.60, 0.65, 0.70, 0.85, 1.00, 0.90, 0.80, 1.00, 1.05, 0.95, 0.75, 0.65, 0.90, 0.75, 0.65, 0.60, 0.90, 0.80, 1.00, 1.00, 1.17, 0.55, 0.60, 0.90, 0.30, 0.05]
i_ra2t = [0.25, -0.25, -0.80, -1.45, -2.40, -2.45, -1.85, -1.15, -0.50, -0.35, -0.25, -0.10, 0.00, -0.05, -0.10, 0.00, -0.20, -0.45, -0.40, -0.35, -0.30, -0.22, -0.20, -0.15, -0.05, 0.15, 0.29, 0.48, 0.15, 0.05, 0.00, -0.65, -0.82]
i_ra2t_lo = [-0.85, -1.55, -2.55, -3.55, -4.10, -4.05, -3.55, -2.75, -2.25, -1.85, -1.75, -1.65, -1.55, -1.45, -1.25, -1.30, -1.35, -1.30, -1.30, -1.25, -1.15, -1.10, -1.05, -1.00, -0.82, -0.62, -0.64, -0.22, -0.35, -0.47, -1.08, -1.82, -2.12]
i_ra2t_hi = [1.95, 1.15, 0.65, 0.35, 0.10, 0.15, 0.35, 0.50, 0.55, 0.60, 0.75, 0.90, 0.80, 0.70, 0.90, 0.95, 0.85, 0.65, 0.55, 0.80, 0.65, 0.55, 0.50, 0.80, 0.78, 0.98, 0.98, 1.15, 0.53, 0.58, 0.88, 0.28, 0.04]
i_ra2m = [0.20, -0.30, -0.80, -1.40, -2.35, -2.40, -1.80, -1.20, -0.55, -0.42, -0.39, -0.35, -0.20, -0.14, -0.20, -0.14, -0.28, -0.45, -0.42, -0.35, -0.30, -0.22, -0.22, -0.16, -0.05, 0.15, 0.29, 0.48, 0.15, 0.05, 0.00, -0.65, -0.82]
i_ra2m_lo = [-0.80, -1.50, -2.50, -3.50, -4.05, -4.00, -3.50, -2.70, -2.20, -1.80, -1.70, -1.60, -1.50, -1.40, -1.20, -1.25, -1.30, -1.25, -1.25, -1.20, -1.10, -1.05, -1.00, -0.95, -0.80, -0.60, -0.64, -0.20, -0.33, -0.45, -1.05, -1.80, -2.10]
i_ra2m_hi = [2.00, 1.20, 0.70, 0.40, 0.15, 0.20, 0.40, 0.55, 0.60, 0.65, 0.80, 0.95, 0.85, 0.75, 0.95, 1.00, 0.90, 0.70, 0.60, 0.85, 0.70, 0.60, 0.55, 0.85, 0.80, 1.00, 1.00, 1.17, 0.55, 0.60, 0.90, 0.30, 0.05]

# ---- (j) q bias, case 2
j_ifs = [0.30, 0.15, -0.05, -0.18, -0.24, -0.22, -0.18, -0.12, -0.10, -0.08, -0.06, -0.05, -0.04, -0.03, -0.02, -0.03, -0.05, -0.09, -0.06, -0.02, 0.02, 0.01, 0.005, 0.00, 0.00, 0.00, 0.00, 0.00, -0.005, 0.00, 0.00, 0.00, 0.00]
j_ifs_lo = [0.00, -0.40, -0.58, -0.55, -0.52, -0.48, -0.44, -0.40, -0.36, -0.33, -0.31, -0.30, -0.28, -0.25, -0.22, -0.21, -0.20, -0.19, -0.18, -0.17, -0.17, -0.16, -0.15, -0.13, -0.10, -0.08, -0.065, -0.055, -0.045, -0.035, -0.03, -0.025, -0.02]
j_ifs_hi = [0.60, 0.50, 0.25, 0.17, 0.20, 0.25, 0.30, 0.33, 0.30, 0.25, 0.22, 0.20, 0.25, 0.28, 0.22, 0.20, 0.18, 0.15, 0.14, 0.12, 0.11, 0.10, 0.09, 0.07, 0.06, 0.055, 0.05, 0.045, 0.04, 0.035, 0.03, 0.025, 0.02]
j_casim = [0.18, 0.08, -0.08, -0.15, -0.25, -0.30, -0.22, -0.15, -0.08, -0.05, -0.03, -0.02, -0.03, 0.00, 0.02, 0.00, -0.06, -0.09, -0.08, -0.08, -0.06, -0.035, -0.02, -0.01, 0.00, 0.002, 0.005, 0.005, 0.005, 0.005, 0.005, 0.003, 0.003]
j_casim_lo = [-0.17, -0.44, -0.57, -0.55, -0.54, -0.49, -0.46, -0.43, -0.41, -0.39, -0.37, -0.35, -0.32, -0.29, -0.33, -0.37, -0.36, -0.29, -0.26, -0.22, -0.19, -0.16, -0.14, -0.11, -0.085, -0.065, -0.05, -0.035, -0.025, -0.02, -0.015, -0.01, -0.01]
j_casim_hi = [0.56, 0.46, 0.36, 0.21, 0.16, 0.26, 0.36, 0.46, 0.48, 0.36, 0.31, 0.36, 0.31, 0.33, 0.36, 0.34, 0.26, 0.21, 0.13, 0.14, 0.14, 0.13, 0.12, 0.10, 0.09, 0.08, 0.065, 0.05, 0.03, 0.025, 0.02, 0.015, 0.015]
j_ra2t = [0.18, 0.09, -0.08, -0.16, -0.26, -0.30, -0.25, -0.16, -0.06, 0.02, 0.05, 0.03, 0.00, 0.02, 0.03, 0.02, -0.05, -0.09, -0.08, -0.08, -0.06, -0.035, -0.02, -0.01, 0.00, 0.002, 0.005, 0.005, 0.005, 0.005, 0.005, 0.003, 0.003]
j_ra2t_lo = [-0.19, -0.46, -0.59, -0.57, -0.56, -0.51, -0.48, -0.45, -0.43, -0.41, -0.39, -0.37, -0.34, -0.31, -0.35, -0.39, -0.38, -0.31, -0.28, -0.24, -0.21, -0.18, -0.16, -0.13, -0.095, -0.075, -0.055, -0.04, -0.03, -0.02, -0.015, -0.01, -0.01]
j_ra2t_hi = [0.54, 0.44, 0.34, 0.19, 0.14, 0.24, 0.34, 0.44, 0.46, 0.34, 0.29, 0.34, 0.29, 0.31, 0.34, 0.32, 0.24, 0.19, 0.11, 0.12, 0.12, 0.11, 0.10, 0.09, 0.085, 0.075, 0.06, 0.05, 0.03, 0.025, 0.02, 0.015, 0.015]
j_ra2m = [0.20, 0.10, -0.10, -0.18, -0.27, -0.32, -0.27, -0.20, -0.10, -0.04, 0.00, -0.05, -0.01, 0.03, 0.04, 0.03, -0.05, -0.09, -0.08, -0.08, -0.06, -0.035, -0.02, -0.01, 0.00, 0.002, 0.005, 0.005, 0.005, 0.005, 0.005, 0.003, 0.003]
j_ra2m_lo = [-0.18, -0.45, -0.58, -0.56, -0.55, -0.50, -0.47, -0.44, -0.42, -0.40, -0.38, -0.36, -0.33, -0.30, -0.34, -0.38, -0.37, -0.30, -0.27, -0.23, -0.20, -0.17, -0.15, -0.12, -0.09, -0.07, -0.05, -0.035, -0.025, -0.02, -0.015, -0.01, -0.01]
j_ra2m_hi = [0.55, 0.45, 0.35, 0.20, 0.15, 0.25, 0.35, 0.45, 0.47, 0.35, 0.30, 0.35, 0.30, 0.32, 0.35, 0.33, 0.25, 0.20, 0.12, 0.13, 0.13, 0.12, 0.11, 0.10, 0.09, 0.08, 0.065, 0.05, 0.03, 0.025, 0.02, 0.015, 0.015]

# ---------------- style
sns.set_theme(style='whitegrid', rc={
    'axes.facecolor': '#f5f5f5',
    'axes.edgecolor': 'black',
    'axes.linewidth': 1.3,
    'grid.color': '#d6d6d6',
    'grid.linewidth': 1.1,
    'xtick.bottom': True,
    'ytick.left': True,
    'xtick.color': 'black',
    'ytick.color': 'black',
})
plt.rcParams['font.family'] = ['DejaVu Sans']

LINE_COL = {'obs': 'black', 'ifs': '#ffc000', 'casim': '#2eaa64', 'ra2t': '#4682b4', 'ra2m': '#000085'}
FILL_COL = {'obs': ('lightgrey', 0.45), 'ifs': ('navajowhite', 0.38), 'casim': ('mediumaquamarine', 0.15),
            'ra2t': ('lightblue', 0.4), 'ra2m': ('lavender', 0.35)}

g = globals()
fig = plt.figure(figsize=(20.67, 12.06), dpi=100)
W, H = 2067.0, 1206.0
col_left = [81, 480, 879, 1281, 1686]
col_width = [335, 335, 336, 340, 342]
row_top = [27.5, 623.0]
row_h = 487.0

letters = 'abcdefghij'
for k, p in enumerate(letters):
    row, col = divmod(k, 5)
    ax = fig.add_axes([col_left[col] / W, 1 - (row_top[row] + row_h) / H, col_width[col] / W, row_h / H])
    ax.set_axisbelow('line')
    bias = col >= 3
    z = Z_BIAS if bias else Z_CLOUD
    # model spreads first, then ECMWF and obs on top (gives the olive overlap)
    series = ['casim', 'ra2t', 'ra2m', 'ifs'] if bias else ['casim', 'ra2t', 'ra2m', 'ifs', 'obs']

    for s in series:
        fc, al = FILL_COL[s]
        ax.fill_betweenx(z, g[f'{p}_{s}_lo'], g[f'{p}_{s}_hi'], color=fc, alpha=al, lw=0, zorder=1)
    for s in series:
        for edge in ('lo', 'hi'):
            ax.plot(g[f'{p}_{s}_{edge}'], z, ls='--', lw=0.8, color=LINE_COL[s], zorder=1.2)

    if bias:
        ax.axvline(0, color='grey', ls=(0, (5, 3)), lw=1.8, zorder=1.8)
        for s in ['casim', 'ra2t', 'ra2m', 'ifs']:
            sns.lineplot(x=g[f'{p}_{s}'], y=z, orient='y', sort=False, estimator=None, ax=ax,
                         color=LINE_COL[s], lw=2.2, marker='o', markersize=6, markeredgewidth=0, zorder=3)
    else:
        for s in ['ifs', 'casim', 'ra2t', 'ra2m', 'obs']:
            sns.lineplot(x=g[f'{p}_{s}'], y=z, orient='y', sort=False, estimator=None, ax=ax,
                         color=LINE_COL[s], lw=4.2 if s == 'obs' else 2.4, zorder=3)

    ax.set_xlim(*XLIMS[col])
    ax.set_ylim(0, 9)
    ax.set_xticks(XTICKS[col])
    ax.set_xticklabels(XTICKLABELS[col], fontsize=20)
    ax.set_yticks(range(10))
    ax.yaxis.set_minor_locator(MultipleLocator(0.5))
    ax.tick_params(axis='y', which='major', length=5, width=1.2, direction='out')
    ax.tick_params(axis='y', which='minor', length=3, width=1.0, direction='out', left=True)
    ax.tick_params(axis='x', length=5, width=1.2, direction='out', pad=6)
    if col == 0:
        ax.set_yticklabels([str(v) for v in range(10)], fontsize=20)
        ax.set_ylabel('Z [km]', fontsize=20, labelpad=4)
    else:
        ax.set_yticklabels([])
        ax.set_ylabel('')
    ax.set_xlabel(XLABELS[col], fontsize=20, labelpad=6)
    ax.grid(True, which='major', color='#d6d6d6', lw=1.1)
    ax.grid(False, which='minor')
    for sp in ax.spines.values():
        sp.set_color('black')
        sp.set_linewidth(1.2)
    ax.spines['top'].set_linewidth(2.0)
    ax.spines['bottom'].set_linewidth(2.0)
    ax.text(0.97, 0.975, PANEL_TAGS[k], transform=ax.transAxes, ha='right', va='top', fontsize=20)

    if p == 'b':
        handles = [Line2D([], [], color=LINE_COL[s], lw=4.5 if s == 'obs' else 2.4)
                   for s in ['obs', 'ifs', 'casim', 'ra2t', 'ra2m']]
        ax.legend(handles, LABELS, loc='upper right', bbox_to_anchor=(0.96, 0.915), fontsize=19,
                  frameon=True, facecolor='white', edgecolor='#cccccc', framealpha=0.9,
                  borderaxespad=0, handlelength=2.0, labelspacing=0.45)

fig.savefig('out.png', dpi=100)
